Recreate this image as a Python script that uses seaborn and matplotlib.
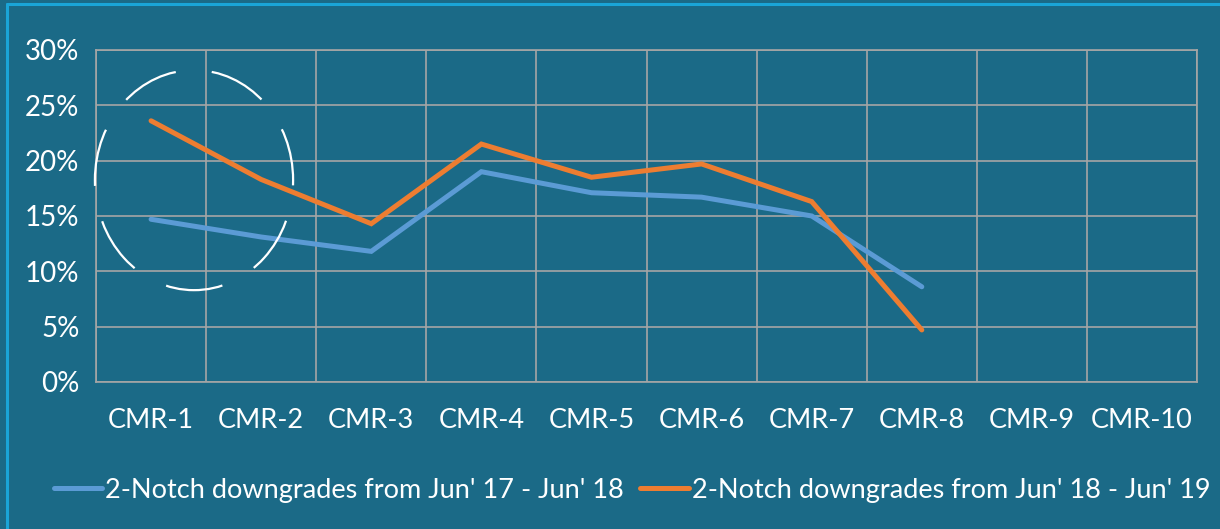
import numpy as np
import pandas as pd
import matplotlib
matplotlib.use("Agg")
import matplotlib.pyplot as plt
import matplotlib.patches as mpatches
from matplotlib.lines import Line2D
import seaborn as sns

# chart data
categories = ["CMR-1", "CMR-2", "CMR-3", "CMR-4", "CMR-5",
              "CMR-6", "CMR-7", "CMR-8", "CMR-9", "CMR-10"]
jun17_18 = [14.7, 13.1, 11.8, 19.0, 17.1, 16.7, 15.0, 8.6, np.nan, np.nan]
jun18_19 = [23.6, 18.3, 14.3, 21.5, 18.5, 19.7, 16.3, 4.7, np.nan, np.nan]
yticks = [0, 5, 10, 15, 20, 25, 30]
series_names = ["2-Notch downgrades from Jun' 17 - Jun' 18",
                "2-Notch downgrades from Jun' 18 - Jun' 19"]

bg = "#1B6A87"
blue = "#5B9BD5"
orange = "#ED7D31"
grid_col = "#A6A6A6"

sns.set_style("white")
plt.rcParams["font.family"] = ["Lato", "DejaVu Sans"]

df = pd.DataFrame({
    "cat": categories * 2,
    "pos": list(range(len(categories))) * 2,
    "val": jun17_18 + jun18_19,
    "series": [series_names[0]] * len(categories) + [series_names[1]] * len(categories),
})

fig = plt.figure(figsize=(12.2, 5.29), dpi=100, facecolor=bg)
ax = fig.add_axes([0.0787, 0.278, 0.9025, 0.6275])
ax.set_facecolor(bg)

sns.lineplot(data=df, x="pos", y="val", hue="series",
             palette=[blue, orange], linewidth=3.6, ax=ax, legend=False,
             solid_capstyle="round", solid_joinstyle="miter")

ax.set_xlim(-0.5, len(categories) - 0.5)
ax.set_ylim(0, 30)
ax.set_yticks(yticks)
ax.set_yticklabels([f"{t}%" for t in yticks])
ax.set_xticks(range(len(categories)))
ax.set_xticklabels(categories)
ax.set_xticks(np.arange(-0.5, len(categories), 1), minor=True)
ax.grid(False)
ax.grid(True, which="minor", axis="x", color=grid_col, linewidth=1.2)
ax.grid(True, which="major", axis="y", color=grid_col, linewidth=1.2)
ax.set_axisbelow(True)
for s in ax.spines.values():
    s.set_color(grid_col)
    s.set_linewidth(1.2)
ax.tick_params(which="both", length=0)
ax.tick_params(axis="y", colors="white", labelsize=20, pad=12)
ax.tick_params(axis="x", colors="white", labelsize=19.5, pad=19)
ax.set_xlabel("")
ax.set_ylabel("")

# dashed highlight circle around CMR-1
circ = mpatches.Ellipse((0.089, 0.608), 0.18, 0.663, transform=ax.transAxes,
                        fill=False, edgecolor="white", linewidth=1.6,
                        linestyle=(13, (26, 16.3)), clip_on=False, zorder=5)
ax.add_patch(circ)

handles = [Line2D([0], [0], color=blue, lw=3.6),
           Line2D([0], [0], color=orange, lw=3.6)]
leg = fig.legend(handles, series_names, loc="center", bbox_to_anchor=(0.518, 0.073),
                 ncol=2, frameon=False, fontsize=19.5, handlelength=1.8,
                 handletextpad=0.1, columnspacing=0.6, labelcolor="white")

# thin frame on top and left
fig.add_artist(Line2D([0.0057, 1], [0.9925, 0.9925], color="#1AA5D8", lw=2.2,
                      transform=fig.transFigure))
fig.add_artist(Line2D([0.0057, 0.0057], [0, 0.9925], color="#1AA5D8", lw=2.2,
                      transform=fig.transFigure))

fig.savefig("out.png", dpi=100, facecolor=bg)
